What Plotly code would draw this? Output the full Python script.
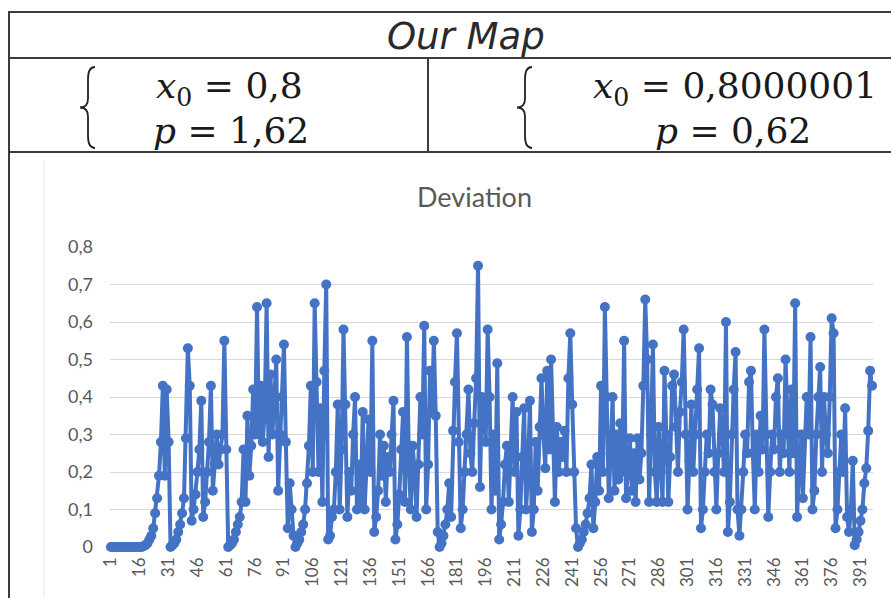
import plotly.graph_objects as go

# ---------------- data ----------------
deviation = [
    0, 0, 0, 0, 0, 0, 0, 0, 0, 0,
    0, 0, 0, 0, 0, 0, 0, 0.002, 0.005, 0.01,
    0.02, 0.03, 0.05, 0.09, 0.13, 0.19, 0.28, 0.43, 0.19, 0.42,
    0.28, 0.0, 0.005, 0.01, 0.02, 0.04, 0.06, 0.09, 0.13, 0.29,
    0.53, 0.43, 0.07, 0.1, 0.14, 0.2, 0.26, 0.39, 0.08, 0.12,
    0.2, 0.28, 0.43, 0.15, 0.22, 0.3, 0.22, 0.26, 0.3, 0.55,
    0.26, 0.0, 0.005, 0.01, 0.02, 0.04, 0.06, 0.08, 0.12, 0.26,
    0.12, 0.35, 0.19, 0.27, 0.42, 0.3, 0.64, 0.3, 0.43, 0.28,
    0.36, 0.65, 0.24, 0.46, 0.3, 0.38, 0.5, 0.15, 0.3, 0.4,
    0.54, 0.28, 0.05, 0.17, 0.1, 0.03, 0.0, 0.01, 0.02, 0.04,
    0.06, 0.1, 0.17, 0.27, 0.43, 0.2, 0.65, 0.44, 0.2, 0.37,
    0.12, 0.47, 0.7, 0.02, 0.03, 0.08, 0.1, 0.2, 0.38, 0.1,
    0.26, 0.58, 0.38, 0.08, 0.2, 0.15, 0.3, 0.4, 0.1, 0.22,
    0.12, 0.36, 0.1, 0.25, 0.34, 0.2, 0.55, 0.04, 0.08, 0.15,
    0.3, 0.19, 0.27, 0.12, 0.24, 0.2, 0.3, 0.39, 0.02, 0.06,
    0.14, 0.26, 0.36, 0.12, 0.56, 0.22, 0.1, 0.27, 0.2, 0.08,
    0.22, 0.4, 0.3, 0.59, 0.1, 0.22, 0.47, 0.36, 0.55, 0.35,
    0.04, 0.0, 0.01, 0.03, 0.06, 0.1, 0.17, 0.08, 0.31, 0.44,
    0.57, 0.28, 0.05, 0.1, 0.2, 0.3, 0.42, 0.25, 0.2, 0.33,
    0.45, 0.75, 0.16, 0.4, 0.36, 0.28, 0.58, 0.4, 0.1, 0.3,
    0.15, 0.49, 0.02, 0.06, 0.12, 0.22, 0.27, 0.12, 0.25, 0.4,
    0.2, 0.36, 0.03, 0.1, 0.24, 0.37, 0.1, 0.2, 0.39, 0.04,
    0.1, 0.28, 0.15, 0.32, 0.45, 0.3, 0.21, 0.47, 0.26, 0.5,
    0.26, 0.12, 0.32, 0.2, 0.28, 0.24, 0.31, 0.2, 0.45, 0.57,
    0.38, 0.2, 0.05, 0.0, 0.01, 0.02, 0.04, 0.06, 0.09, 0.13,
    0.22, 0.05, 0.12, 0.24, 0.15, 0.43, 0.2, 0.64, 0.4, 0.13,
    0.25, 0.4, 0.15, 0.3, 0.18, 0.33, 0.2, 0.55, 0.13, 0.2,
    0.29, 0.15, 0.25, 0.12, 0.29, 0.18, 0.25, 0.43, 0.66, 0.5,
    0.12, 0.3, 0.54, 0.2, 0.12, 0.32, 0.2, 0.12, 0.47, 0.3,
    0.12, 0.24, 0.43, 0.46, 0.32, 0.2, 0.36, 0.44, 0.58, 0.3,
    0.1, 0.23, 0.38, 0.2, 0.3, 0.42, 0.53, 0.05, 0.1, 0.2,
    0.3, 0.25, 0.42, 0.38, 0.2, 0.1, 0.25, 0.37, 0.3, 0.2,
    0.6, 0.04, 0.12, 0.3, 0.42, 0.52, 0.1, 0.03, 0.1, 0.2,
    0.3, 0.25, 0.44, 0.47, 0.25, 0.1, 0.3, 0.2, 0.35, 0.26,
    0.58, 0.3, 0.08, 0.2, 0.3, 0.26, 0.4, 0.45, 0.2, 0.3,
    0.25, 0.5, 0.3, 0.2, 0.42, 0.25, 0.65, 0.08, 0.2, 0.3,
    0.13, 0.3, 0.4, 0.3, 0.56, 0.1, 0.15, 0.3, 0.4, 0.48,
    0.2, 0.4, 0.3, 0.25, 0.4, 0.61, 0.57, 0.05, 0.1, 0.2,
    0.3, 0.2, 0.37, 0.08, 0.04, 0.1, 0.23, 0.005, 0.02, 0.04,
    0.07, 0.1, 0.17, 0.21, 0.31, 0.47, 0.43,
]
iterations = list(range(1, len(deviation) + 1))
x_tick_values = list(range(1, 392, 15))
x_tick_labels = [str(v) for v in x_tick_values]
y_tick_values = [0, 0.1, 0.2, 0.3, 0.4, 0.5, 0.6, 0.7, 0.8]
y_tick_labels = ["0", "0,1", "0,2", "0,3", "0,4", "0,5", "0,6", "0,7", "0,8"]

table_title = "Our Map"
chart_title = "Deviation"
left_eq = ["<i>x</i><sub>0</sub> = 0,8", "<i>p</i> = 1,62"]
right_eq = ["<i>x</i><sub>0</sub> = 0,8000001", "<i>p</i> = 0,62"]

# ---------------- layout helpers ----------------
W, H = 891, 598
L, R, T, B = 110, 18, 247, 51
PW, PH = W - L - R, H - T - B


def px(x):
    return (x - L) / PW


def py(y):
    return (H - B - y) / PH


BLUE = "#4472C4"
GRAY = "#595959"
BORDER = "#3c3c3c"

fig = go.Figure()
fig.add_trace(go.Scatter(
    x=iterations, y=deviation, mode="lines+markers",
    line=dict(color=BLUE, width=4),
    marker=dict(color=BLUE, size=10),
    cliponaxis=False, showlegend=False, hoverinfo="x+y",
))

shapes = []


def hline(y, x0, x1, color=BORDER, w=2):
    shapes.append(dict(type="line", xref="paper", yref="paper",
                       x0=px(x0), x1=px(x1), y0=py(y), y1=py(y),
                       line=dict(color=color, width=w), layer="above"))


def vline(x, y0, y1, color=BORDER, w=2):
    shapes.append(dict(type="line", xref="paper", yref="paper",
                       x0=px(x), x1=px(x), y0=py(y0), y1=py(y1),
                       line=dict(color=color, width=w), layer="above"))


hline(12, 8, 891)
hline(58, 8, 891)
hline(152, 8, 891)
vline(9, 12, 598)
vline(428, 58, 152)
vline(44, 160, 598, color="#ECECEC", w=1)


def brace(x_tip, x_stem, x_end, ytop, ybot):
    ym = (ytop + ybot) / 2
    pts = [
        ("M", [(x_end, ytop)]),
        ("Q", [(x_stem, ytop), (x_stem, ytop + 12)]),
        ("L", [(x_stem, ym - 9)]),
        ("Q", [(x_stem, ym), (x_tip, ym)]),
        ("Q", [(x_stem, ym), (x_stem, ym + 9)]),
        ("L", [(x_stem, ybot - 12)]),
        ("Q", [(x_stem, ybot), (x_end, ybot)]),
    ]
    path = " ".join(cmd + " " + " ".join(f"{px(a):.5f},{py(b):.5f}" for a, b in p)
                    for cmd, p in pts)
    shapes.append(dict(type="path", xref="paper", yref="paper", path=path,
                       line=dict(color="#222222", width=1.8)))


brace(80, 88, 95, 67, 148)
brace(517, 525, 532, 67, 148)

annotations = [
    dict(text=table_title, x=px(466), y=py(36), xref="paper", yref="paper",
         xanchor="center", yanchor="middle", showarrow=False,
         font=dict(family="DejaVu Sans", size=37, color="#2a2a2a",
                   style="italic", weight=200)),
    dict(text=chart_title, x=px(474), y=py(196), xref="paper", yref="paper",
         xanchor="center", yanchor="middle", showarrow=False,
         font=dict(family="Lato", size=27, color=GRAY)),
]
eq_font = dict(family="DejaVu Serif", size=36, color="#1a1a1a")
for txt, cx, cy in [(left_eq[0], 229, 88), (left_eq[1], 231, 130),
                    (right_eq[0], 735, 88), (right_eq[1], 733, 130)]:
    annotations.append(dict(text=txt, x=px(cx), y=py(cy), xref="paper", yref="paper",
                            xanchor="center", yanchor="middle", showarrow=False,
                            font=eq_font))

fig.update_layout(
    width=W, height=H,
    margin=dict(l=L, r=R, t=T, b=B, pad=0),
    paper_bgcolor="white", plot_bgcolor="white",
    font=dict(family="Lato", color=GRAY),
    shapes=shapes, annotations=annotations,
    xaxis=dict(range=[0.5, len(deviation) + 0.5], tickmode="array",
               tickvals=x_tick_values, ticktext=x_tick_labels, tickangle=-90,
               tickfont=dict(size=17, color=GRAY), showgrid=False, zeroline=False,
               showline=False, ticks="", automargin=False, ticklabelstandoff=6,
               fixedrange=True),
    yaxis=dict(range=[0, 0.8], tickmode="array", tickvals=y_tick_values,
               ticktext=y_tick_labels, tickfont=dict(size=18, color=GRAY),
               showgrid=True, gridcolor="#D9D9D9", gridwidth=1, zeroline=False,
               showline=False, ticks="", automargin=False, ticklabelstandoff=16,
               fixedrange=True),
)

fig.write_html("out.html", config={"displayModeBar": False})

# remove the default page margin so the figure sits at the window's origin
with open("out.html", "r", encoding="utf-8") as f:
    html = f.read()
html = html.replace("<body>", '<body style="margin:0;padding:0;overflow:hidden">', 1)
with open("out.html", "w", encoding="utf-8") as f:
    f.write(html)
